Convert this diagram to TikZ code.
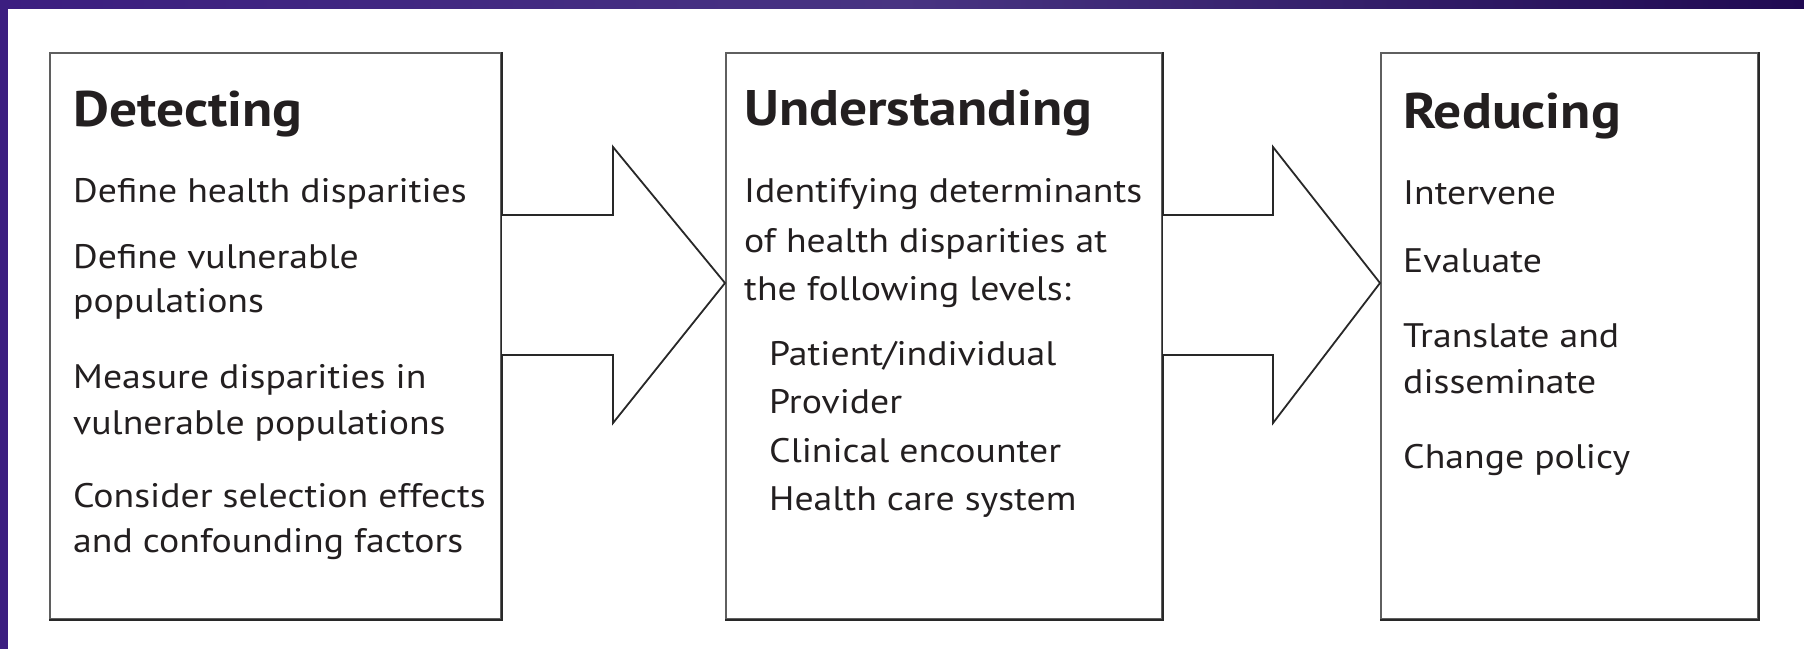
\documentclass[tikz,border=0pt]{standalone}
\usepackage{fontspec}
\setmainfont[FakeStretch=1.11]{PT Sans}
\usetikzlibrary{calc}
\definecolor{ink}{RGB}{35,31,32}
\definecolor{edge}{RGB}{95,95,95}
\definecolor{edgedark}{RGB}{40,40,40}
\definecolor{purpA}{RGB}{60,30,128}
\definecolor{purpB}{RGB}{72,52,130}
\definecolor{purpC}{RGB}{32,10,82}
\tikzset{
  stagebox/.style={draw=edge, line width=2pt, fill=white, inner sep=0pt, minimum height=566pt},
  ttl/.style={anchor=base west, inner sep=0pt, text=ink, font=\fontsize{50}{50}\selectfont\bfseries},
  itm/.style={anchor=base west, inner sep=0pt, text=ink, font=\fontsize{34}{34}\selectfont},
  blockarrow/.style={draw=edgedark, line width=1.8pt, fill=white, line join=miter},
  shadowedge/.style={draw=edgedark, line width=2.6pt}
}
\begin{document}
\begin{tikzpicture}[x=1pt,y=-1pt]
\useasboundingbox (0,0) rectangle (1804,649);
\fill[white] (0,0) rectangle (1804,649);
% purple frame
\shade[left color=purpA, right color=purpC, middle color=purpB] (0,0) rectangle (1804,8);
\fill[purpA] (0,0) rectangle (8,649);
% boxes
\node[stagebox, minimum width=451pt] (det) at (275.5,336) {};
\node[stagebox, minimum width=436pt] (und) at (944,336) {};
\node[stagebox, minimum width=377pt] (red) at (1569.5,336) {};
\foreach \b in {det,und,red}{
  \draw[shadowedge] (\b.north east) -- (\b.south east) -- (\b.south west);
}
% block arrows
\draw[blockarrow] ($(det.east)+(0,-121)$) -- ($(det.east)+(111,-121)$) -- ($(det.east)+(111,-189)$)
  -- ($(und.west)+(0,-53)$) -- ($(det.east)+(111,87)$) -- ($(det.east)+(111,19)$) -- ($(det.east)+(0,19)$);
\draw[blockarrow] ($(und.east)+(0,-121)$) -- ($(und.east)+(110,-121)$) -- ($(und.east)+(110,-189)$)
  -- ($(red.west)+(0,-53)$) -- ($(und.east)+(110,87)$) -- ($(und.east)+(110,19)$) -- ($(und.east)+(0,19)$);
% Detecting
\node[ttl] (t1) at (73,126) {Detecting};
\node[itm] (d1) at (73,202) {Define health disparities};
\node[itm] (d2) at (73,268) {Define vulnerable};
\node[itm] (d3) at (73,312) {populations};
\node[itm] (d4) at (73,388) {Measure disparities in};
\node[itm] (d5) at (73,434) {vulnerable populations};
\node[itm] (d6) at (73,507) {Consider selection effects};
\node[itm] (d7) at (73,552) {and confounding factors};
% Understanding
\node[ttl] (t2) at (744,125) {Understanding};
\node[itm] (u1) at (744,202) {Identifying determinants};
\node[itm] (u2) at (744,252) {of health disparities at};
\node[itm] (u3) at (744,300) {the following levels:};
\node[itm] (u4) at (769,365) {Patient/individual};
\node[itm] (u5) at (769,413) {Provider};
\node[itm] (u6) at (769,462) {Clinical encounter};
\node[itm] (u7) at (769,510) {Health care system};
% Reducing
\node[ttl] (t3) at (1403,128) {Reducing};
\node[itm] (r1) at (1403,204) {Intervene};
\node[itm] (r2) at (1403,272) {Evaluate};
\node[itm] (r3) at (1403,347) {Translate and};
\node[itm] (r4) at (1403,393) {disseminate};
\node[itm] (r5) at (1403,468) {Change policy};
\end{tikzpicture}
\end{document}
